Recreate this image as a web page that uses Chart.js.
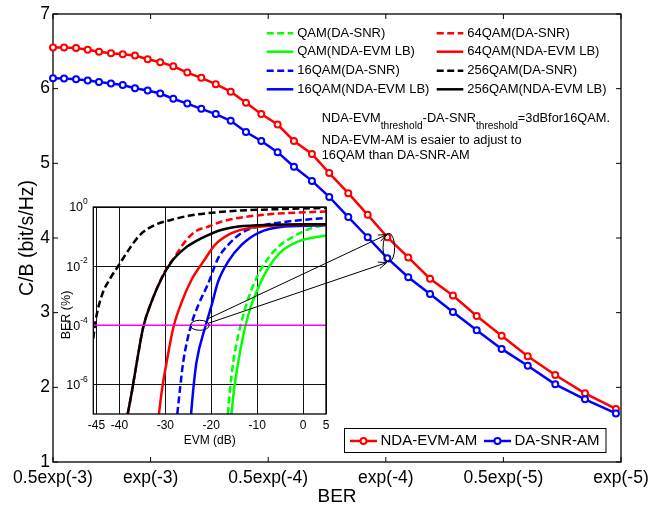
<!DOCTYPE html>
<html>
<head>
<meta charset="utf-8">
<script src="https://cdn.jsdelivr.net/npm/chart.js@4.4.0/dist/chart.umd.min.js"></script>
<style>
  html, body { margin: 0; background: #fff; }
  #wrap { position: relative; width: 666px; height: 506px; }
  #wrap canvas { position: absolute; left: 0; top: 0; }
</style>
</head>
<body>
<div id="wrap">
  <canvas id="mainChart" width="666" height="506"></canvas>
  <canvas id="insetChart" width="666" height="506"></canvas>
</div>
<script>
// ---- main plot: C/B vs BER ----
const berPos = [0, 0.094, 0.196, 0.295, 0.391, 0.493, 0.593, 0.697, 0.805, 0.912, 1.023,
  1.142, 1.261, 1.384, 1.511, 1.641, 1.771, 1.910, 2.049, 2.202, 2.349, 2.511, 2.676,
  2.843, 3.021, 3.206, 3.401, 3.603, 3.815, 4.037, 4.271, 4.524, 4.787];
const cbNdaEvm = [6.55, 6.55, 6.545, 6.52, 6.495, 6.475, 6.46, 6.445, 6.395, 6.355, 6.30,
  6.215, 6.145, 6.06, 5.96, 5.81, 5.66, 5.52, 5.30, 5.125, 4.87, 4.60, 4.31,
  4.01, 3.74, 3.455, 3.23, 2.955, 2.69, 2.415, 2.165, 1.92, 1.71];
const cbDaSnr = [6.14, 6.135, 6.125, 6.11, 6.09, 6.07, 6.05, 6.005, 5.975, 5.935, 5.865,
  5.80, 5.73, 5.66, 5.57, 5.42, 5.30, 5.15, 4.955, 4.765, 4.55, 4.28, 4.01,
  3.73, 3.475, 3.25, 3.01, 2.765, 2.515, 2.29, 2.04, 1.84, 1.65];
const xTickPos = [0, 0.83, 1.83, 2.83, 3.83, 4.83];
const xTickLabels = ['0.5exp(-3)', 'exp(-3)', '0.5exp(-4)', 'exp(-4)', '0.5exp(-5)', 'exp(-5)'];
const cbTicks = [1, 2, 3, 4, 5, 6, 7];
const markIdx = 23; // point picked out by the arrows

// ---- inset: BER vs EVM, pairs of [EVM dB, log10 BER] ----
const qamDa = [[-16.4,-7],[-15.9,-6.14],[-15.2,-5.23],[-14.1,-4.33],[-12.6,-3.42],[-10.8,-2.63],
  [-8.6,-1.96],[-5.7,-1.39],[-2.1,-1.0],[1.9,-0.71],[5,-0.6]];
const qamNda = [[-15.6,-7],[-15.0,-6.14],[-14.1,-5.23],[-13.0,-4.33],[-11.6,-3.48],[-9.8,-2.75],
  [-7.6,-2.07],[-4.7,-1.5],[-1.1,-1.17],[5,-0.96]];
const qam16Da = [[-27.4,-7],[-26.8,-6.14],[-26.1,-5.23],[-24.4,-4.0],[-22.8,-3.31],[-20.7,-2.6],
  [-18.5,-1.73],[-16.3,-1.28],[-13.4,-0.88],[-9.8,-0.66],[-3.3,-0.49],[5,-0.37]];
const qam16Nda = [[-24.4,-7],[-23.9,-6.14],[-23.2,-5.23],[-21.2,-4.0],[-19.9,-3.31],[-18.5,-2.52],
  [-16.3,-1.84],[-13.4,-1.28],[-9.8,-0.88],[-4.0,-0.66],[5,-0.62]];
const qam64Da = [[-38.2,-7],[-37.3,-6.25],[-36.2,-5.23],[-34.8,-4.05],[-33.0,-3.2],[-30.1,-2.18],
  [-27.9,-1.67],[-25.7,-1.17],[-23.5,-0.83],[-20.6,-0.66],[-17.7,-0.49],[-14.1,-0.37],
  [-6.9,-0.24],[5,-0.15]];
const qam64Nda = [[-31.4,-7],[-30.8,-6.25],[-29.7,-5.23],[-28.3,-4.1],[-26.4,-3.2],[-24.3,-2.46],
  [-21.7,-1.84],[-19.2,-1.28],[-16.3,-0.94],[-12.7,-0.74],[-6.9,-0.63],[5,-0.6]];
const qam256Da = [[-45.7,-4.45],[-45.2,-3.85],[-43.8,-2.97],[-42.0,-2.41],[-40.2,-1.98],[-38.0,-1.45],
  [-35.5,-0.94],[-32.2,-0.60],[-28.6,-0.43],[-24.3,-0.28],[-14.1,-0.125],[-6.9,-0.08],[5,-0.03]];
const qam256Nda = [[-38.2,-7],[-37.3,-6.25],[-36.2,-5.23],[-34.8,-4.05],[-33.0,-3.2],[-30.8,-2.41],
  [-28.6,-1.84],[-25.7,-1.39],[-22.8,-1.11],[-21.4,-1.0],[-17.7,-0.77],[-14.1,-0.66],
  [-6.9,-0.6],[5,-0.58]];
const berTarget = [[-45.7,-4],[5,-4]];
const evmTicks = [-45, -40, -30, -20, -10, 0, 5];
const berTickExp = [0, -2, -4, -6];
const circledEvm = -22.5;

const insetSeries = [
  { label: 'QAM(DA-SNR)',         pts: qamDa,     color: '#00ff00', dash: [7, 3.5] },
  { label: 'QAM(NDA-EVM LB)',     pts: qamNda,    color: '#00ff00', dash: [] },
  { label: '16QAM(DA-SNR)',       pts: qam16Da,   color: '#0000ff', dash: [7, 3.5] },
  { label: '16QAM(NDA-EVM LB)',   pts: qam16Nda,  color: '#0000ff', dash: [] },
  { label: '64QAM(DA-SNR)',       pts: qam64Da,   color: '#ff0000', dash: [7, 3.5] },
  { label: '64QAM(NDA-EVM LB)',   pts: qam64Nda,  color: '#ff0000', dash: [] },
  { label: '256QAM(DA-SNR)',      pts: qam256Da,  color: '#000000', dash: [7, 3.5] },
  { label: '256QAM(NDA-EVM LB)',  pts: qam256Nda, color: '#000000', dash: [] }
];

const FONT = "'Liberation Sans', Arial, Helvetica, sans-serif";
Chart.defaults.font.family = FONT;
Chart.defaults.color = '#000';

function arrow(ctx, x0, y0, x1, y1) {
  ctx.beginPath(); ctx.moveTo(x0, y0); ctx.lineTo(x1, y1); ctx.stroke();
  const a = Math.atan2(y1 - y0, x1 - x0), L = 9, w = 0.38;
  ctx.beginPath();
  ctx.moveTo(x1 - L * Math.cos(a - w), y1 - L * Math.sin(a - w));
  ctx.lineTo(x1, y1);
  ctx.lineTo(x1 - L * Math.cos(a + w), y1 - L * Math.sin(a + w));
  ctx.stroke();
}

// frame, inward ticks, both legends and the note
const mainDecor = {
  id: 'mainDecor',
  beforeDatasetsDraw(chart) {
    const { ctx, chartArea: a, scales } = chart;
    ctx.save();
    ctx.strokeStyle = '#000';
    ctx.lineWidth = 1.3;
    ctx.strokeRect(a.left, a.top, a.right - a.left, a.bottom - a.top);
    ctx.lineWidth = 1;
    ctx.beginPath();
    xTickPos.forEach(v => {
      const x = scales.x.getPixelForValue(v);
      ctx.moveTo(x, a.bottom); ctx.lineTo(x, a.bottom - 5);
      ctx.moveTo(x, a.top); ctx.lineTo(x, a.top + 5);
    });
    cbTicks.forEach(v => {
      const y = scales.y.getPixelForValue(v);
      ctx.moveTo(a.left, y); ctx.lineTo(a.left + 5, y);
      ctx.moveTo(a.right, y); ctx.lineTo(a.right - 5, y);
    });
    ctx.stroke();
    ctx.restore();
  },
  afterDraw(chart) {
    const ctx = chart.ctx;
    ctx.save();
    // legend of the inset curves, two columns
    const colX = [266.7, 436.7], rowY = [33.3, 51.7, 70.7, 89.3];
    ctx.font = '13px ' + FONT;
    ctx.textBaseline = 'middle';
    ctx.textAlign = 'left';
    insetSeries.forEach((s, i) => {
      const cx = colX[Math.floor(i / 4)], cy = rowY[i % 4];
      ctx.strokeStyle = s.color;
      ctx.lineWidth = 2.5;
      ctx.setLineDash(s.dash);
      ctx.beginPath(); ctx.moveTo(cx, cy); ctx.lineTo(cx + 26.6, cy); ctx.stroke();
      ctx.setLineDash([]);
      ctx.save();
      if (i < 4) { ctx.beginPath(); ctx.rect(0, 0, 433, 506); ctx.clip(); }
      ctx.fillStyle = '#000';
      ctx.fillText(s.label, cx + 30.5, cy);
      ctx.restore();
    });

    // note with subscripts
    let x = 321.7;
    const parts = [['NDA-EVM', 0], ['threshold', 1], ['-DA-SNR', 0], ['threshold', 1], ['=3dBfor16QAM.', 0]];
    ctx.fillStyle = '#000';
    parts.forEach(([t, sub]) => {
      ctx.font = (sub ? '10.2px ' : '12.8px ') + FONT;
      ctx.fillText(t, x, sub ? 126 : 118.3);
      x += ctx.measureText(t).width;
    });
    ctx.font = '12.8px ' + FONT;
    ctx.fillText('NDA-EVM-AM is esaier to adjust to', 321.7, 140);
    ctx.fillText('16QAM than DA-SNR-AM', 321.7, 155);

    // legend of the main curves
    ctx.fillStyle = '#fff';
    ctx.fillRect(344.5, 428.5, 261.5, 24);
    ctx.strokeStyle = '#000';
    ctx.lineWidth = 1;
    ctx.strokeRect(344.5, 428.5, 261.5, 24);
    const ly = 441;
    ctx.font = '15px ' + FONT;
    chart.data.datasets.forEach((d, i) => {
      const x0 = i === 0 ? 350 : 484;
      ctx.strokeStyle = d.borderColor;
      ctx.lineWidth = 2.5;
      ctx.beginPath(); ctx.moveTo(x0, ly); ctx.lineTo(x0 + 27, ly); ctx.stroke();
      ctx.lineWidth = 2;
      ctx.fillStyle = '#fff';
      ctx.beginPath(); ctx.arc(x0 + 13.5, ly, 3, 0, 2 * Math.PI); ctx.fill(); ctx.stroke();
      ctx.fillStyle = '#000';
      ctx.fillText(d.label, x0 + 30.5, ly);
    });
    ctx.restore();
  }
};

const mainChart = new Chart(document.getElementById('mainChart'), {
  type: 'line',
  data: {
    datasets: [
      { label: 'NDA-EVM-AM', data: berPos.map((x, i) => ({ x, y: cbNdaEvm[i] })),
        borderColor: '#ff0000', pointBorderColor: '#ff0000', order: 1 },
      { label: 'DA-SNR-AM', data: berPos.map((x, i) => ({ x, y: cbDaSnr[i] })),
        borderColor: '#0000ff', pointBorderColor: '#0000ff', order: 0 }
    ].map(d => Object.assign(d, {
      borderWidth: 2.5, pointRadius: 3, pointBorderWidth: 2,
      pointBackgroundColor: '#fff', tension: 0, clip: false, fill: false
    }))
  },
  options: {
    responsive: false, animation: false, devicePixelRatio: 1,
    layout: { padding: { left: 0, right: 45, top: 14, bottom: 0 } },
    plugins: { legend: { display: false }, tooltip: { enabled: false } },
    scales: {
      x: {
        type: 'linear', min: 0, max: 4.83,
        afterBuildTicks: s => { s.ticks = xTickPos.map(v => ({ value: v })); },
        afterFit: s => { s.height = 44; },
        grid: { display: false, drawTicks: false }, border: { display: false },
        ticks: { autoSkip: false, maxRotation: 0, padding: 6, font: { size: 17.5 },
                 callback: (v, i) => xTickLabels[i] },
        title: { display: true, text: 'BER', font: { size: 19, lineHeight: 1 }, padding: 0 }
      },
      y: {
        min: 1, max: 7,
        afterBuildTicks: s => { s.ticks = cbTicks.map(v => ({ value: v })); },
        afterFit: s => { s.width = 53; },
        grid: { display: false, drawTicks: false }, border: { display: false },
        ticks: { padding: 3, font: { size: 17.5 } },
        title: { display: true, text: 'C/B (bit/s/Hz)', font: { size: 19.5, lineHeight: 1 }, padding: { top: 17.5, bottom: 0 } }
      }
    }
  },
  plugins: [mainDecor]
});

// inset frame, log tick labels, circles and arrows
const insetDecor = {
  id: 'insetDecor',
  beforeDraw(chart) {
    const { ctx, chartArea: a } = chart;
    ctx.save();
    ctx.fillStyle = '#fff';
    ctx.fillRect(a.left, a.top, a.right - a.left, a.bottom - a.top);
    ctx.restore();
  },
  afterDraw(chart) {
    const { ctx, chartArea: a, scales } = chart;
    ctx.save();
    ctx.strokeStyle = '#000';
    ctx.lineWidth = 1.3;
    ctx.strokeRect(a.left, a.top, a.right - a.left, a.bottom - a.top);

    ctx.fillStyle = '#000';
    ctx.textBaseline = 'middle';
    ctx.textAlign = 'left';
    berTickExp.forEach(e => {
      const y = scales.y.getPixelForValue(Math.pow(10, e));
      ctx.font = '12.5px ' + FONT;
      const w10 = ctx.measureText('10').width;
      ctx.font = '8.5px ' + FONT;
      const ws = ctx.measureText(String(e)).width;
      const x0 = a.left - 5.5 - w10 - ws;
      ctx.font = '12.5px ' + FONT;
      ctx.fillText('10', x0, y + 1);
      ctx.font = '8.5px ' + FONT;
      ctx.fillText(String(e), x0 + w10, y - 5);
    });
    ctx.save();
    ctx.translate(66.5, 315);
    ctx.rotate(-Math.PI / 2);
    ctx.textAlign = 'center';
    ctx.font = '12.5px ' + FONT;
    ctx.fillText('BER (%)', 0, 0);
    ctx.restore();

    // circle on the inset, circle on the main curves, arrows between them
    const ex = scales.x.getPixelForValue(circledEvm), ey = scales.y.getPixelForValue(1e-4);
    ctx.lineWidth = 1;
    ctx.beginPath(); ctx.ellipse(ex, ey, 9.5, 5, 0, 0, 2 * Math.PI); ctx.stroke();
    const ms = mainChart.scales;
    const mx = ms.x.getPixelForValue(berPos[markIdx]);
    const ry = ms.y.getPixelForValue(cbNdaEvm[markIdx]);
    const by = ms.y.getPixelForValue(cbDaSnr[markIdx]);
    ctx.beginPath(); ctx.ellipse(mx + 1.5, (ry + by) / 2, 5.8, (by - ry) / 2 + 4, 0, 0, 2 * Math.PI); ctx.stroke();
    arrow(ctx, ex + 7, ey - 6, mx - 0.5, ry - 2.7);
    arrow(ctx, ex + 8.5, ey - 2, mx - 0.5, by + 4.4);
    ctx.restore();
  }
};

const insetDatasets = insetSeries.map((s, i) => ({
  label: s.label,
  data: s.pts.map(p => ({ x: p[0], y: Math.pow(10, p[1]) })),
  borderColor: s.color, borderDash: s.dash, borderWidth: 2.5,
  pointRadius: 0, cubicInterpolationMode: 'monotone', fill: false, order: -i
}));
insetDatasets.push({
  label: 'target', data: berTarget.map(p => ({ x: p[0], y: Math.pow(10, p[1]) })),
  borderColor: '#ff00ff', borderWidth: 1.5, pointRadius: 0, fill: false, order: -20
});

const insetChart = new Chart(document.getElementById('insetChart'), {
  type: 'line',
  data: { datasets: insetDatasets },
  options: {
    responsive: false, animation: false, devicePixelRatio: 1,
    layout: { padding: { left: 0, right: 340, top: 207, bottom: 0 } },
    plugins: { legend: { display: false }, tooltip: { enabled: false } },
    scales: {
      x: {
        type: 'linear', min: -45.7, max: 5,
        afterBuildTicks: s => { s.ticks = evmTicks.map(v => ({ value: v })); },
        afterFit: s => { s.height = 92; },
        grid: { color: '#111', lineWidth: 1, drawTicks: false }, border: { display: false },
        ticks: { autoSkip: false, maxRotation: 0, padding: 4, font: { size: 12 }, callback: v => String(v) },
        title: { display: true, text: 'EVM (dB)', font: { size: 12, lineHeight: 1 }, padding: { top: 0, bottom: 59 } }
      },
      y: {
        type: 'logarithmic', min: 1e-7, max: 1,
        afterBuildTicks: s => { s.ticks = berTickExp.map(e => ({ value: Math.pow(10, e) })); },
        afterFit: s => { s.width = 93.3; },
        grid: { color: '#111', lineWidth: 1, drawTicks: false }, border: { display: false },
        ticks: { callback: () => '' }
      }
    }
  },
  plugins: [insetDecor]
});
</script>
</body>
</html>
